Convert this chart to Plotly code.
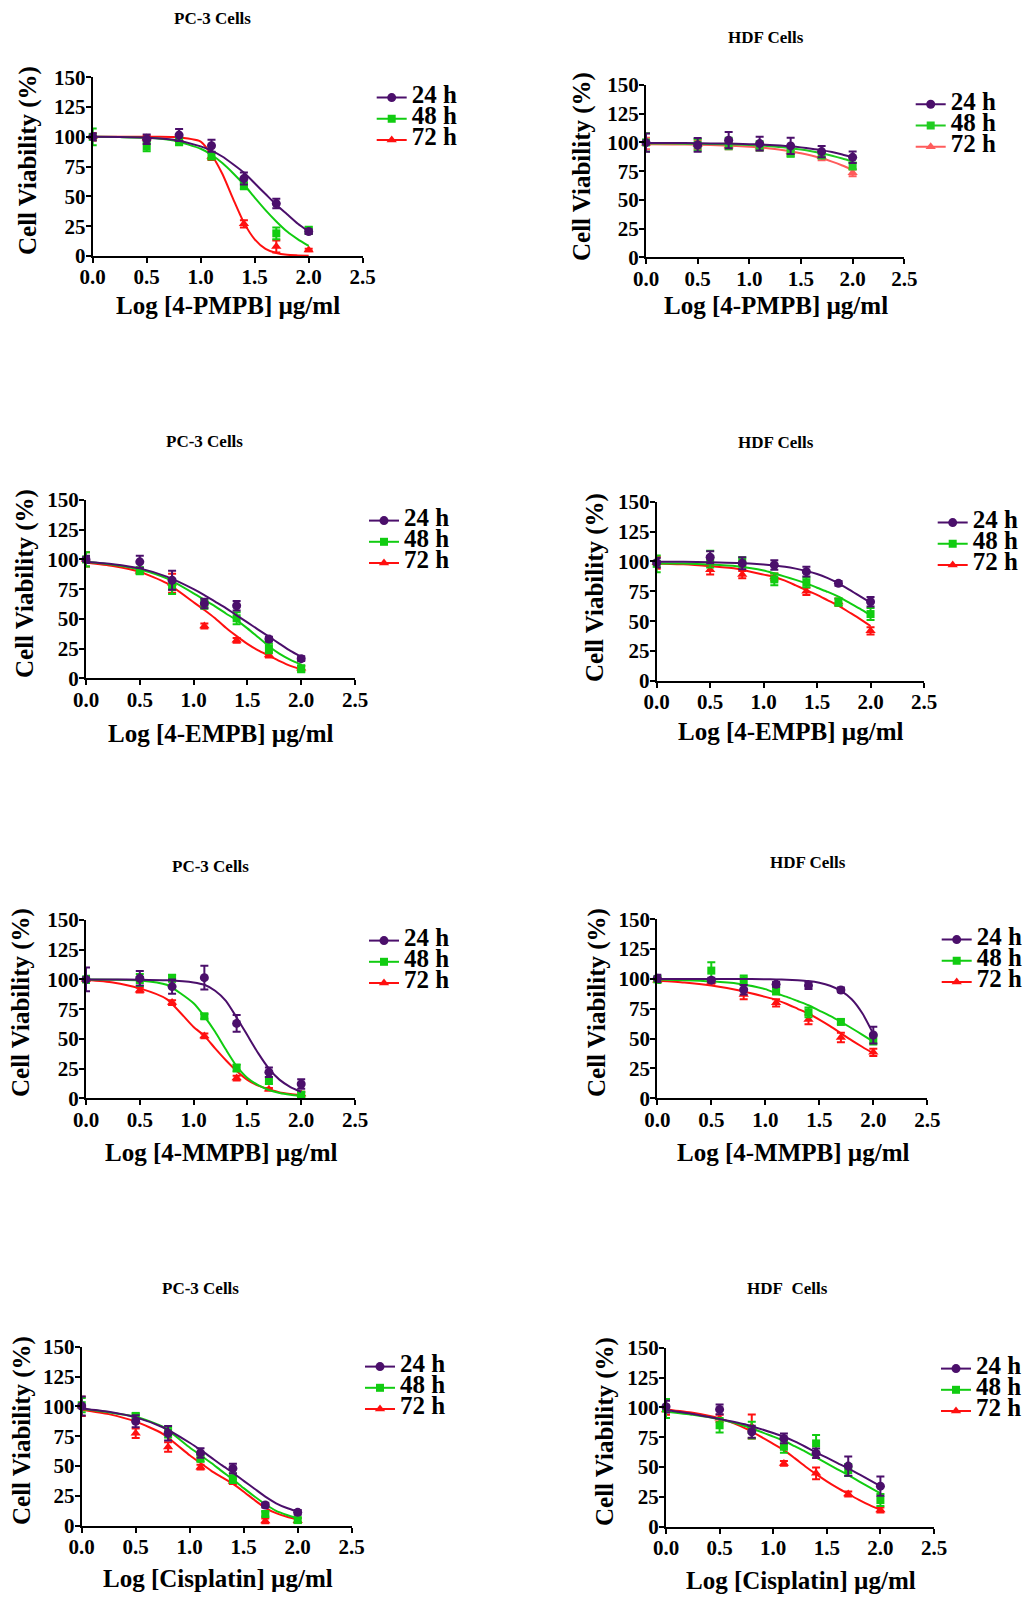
import plotly.graph_objects as go

# ---------------- data ----------------
DOSE_X = [0.0, 0.5, 0.8, 1.1, 1.4, 1.7, 2.0]
CURVE_X = [0.0, 0.25, 0.5, 0.75, 1.0, 1.1, 1.2, 1.3, 1.4, 1.5, 1.6, 1.7, 1.8, 1.9, 2.0]
TIME_LABELS = ["24 h", "48 h", "72 h"]
Y_TICKS = [0, 25, 50, 75, 100, 125, 150]
X_TICKS = [0.0, 0.5, 1.0, 1.5, 2.0, 2.5]

PANEL_TITLES = ["PC-3 Cells", "HDF Cells", "PC-3 Cells", "HDF Cells",
                "PC-3 Cells", "HDF Cells", "PC-3 Cells", "HDF\u00a0 Cells"]
X_TITLES = ["Log [4-PMPB] µg/ml", "Log [4-PMPB] µg/ml",
            "Log [4-EMPB] µg/ml", "Log [4-EMPB] µg/ml",
            "Log [4-MMPB] µg/ml", "Log [4-MMPB] µg/ml",
            "Log [Cisplatin] µg/ml", "Log [Cisplatin] µg/ml"]
Y_TITLE = "Cell Viability (%)"

# Panel 1: PC-3, 4-PMPB
P1_MEAN_24 = [100, 98, 101.5, 92.5, 65, 44, 20.5]
P1_ERR_24 = [3, 4, 5, 5, 5, 4, 2]
P1_MEAN_48 = [100, 92, 96, 84, 59, 19, 21.5]
P1_ERR_48 = [7, 4, 3, 3, 3, 5, 3]
P1_MEAN_72 = [100, 99, 98, 83.5, 27, 8, 5]
P1_ERR_72 = [3, 2, 2, 3, 3, 5, 1]
P1_FIT_24 = [100, 99.8, 99.3, 97.5, 92, 88.5, 83.5, 77, 70, 61, 52, 43, 35, 27, 20.5]
P1_FIT_48 = [100, 99.8, 99.3, 97, 90, 85, 78, 69.5, 60, 49, 38.5, 29, 20.5, 14, 8.5]
P1_FIT_72 = [100, 100, 100, 99.8, 96, 85, 69, 48, 28, 14, 6, 2.5, 1, 0.5, 0.2]

# Panel 2: HDF, 4-PMPB
P2_MEAN_24 = [99.8, 97.8, 102, 99, 97, 92, 87]
P2_ERR_24 = [8, 6, 7, 6, 7, 5, 5]
P2_MEAN_48 = [100, 98, 99, 97, 90.5, 89, 79.5]
P2_ERR_48 = [8, 5, 5, 4, 3, 3, 3]
P2_MEAN_72 = [99, 98, 97, 96, 92, 87.5, 73.5]
P2_ERR_72 = [5, 4, 3, 3, 3, 3, 3]
P2_FIT_24 = [99.5, 99.5, 99.3, 99, 98.5, 98.2, 97.8, 97.3, 96.6, 95.7, 94.6, 93.3, 91.6, 89.5, 87]
P2_FIT_48 = [99, 99, 98.8, 98.4, 97.8, 97.3, 96.7, 96, 95, 93.8, 92.3, 90.5, 88.4, 86, 83.3]
P2_FIT_72 = [98.5, 98.3, 98, 97.4, 96.3, 95.7, 94.8, 93.6, 92.2, 90.6, 88.6, 86.2, 83.3, 79.9, 76]

# Panel 3: PC-3, 4-EMPB
P3_MEAN_24 = [100, 98, 82.5, 63, 61, 33, 16.5]
P3_ERR_24 = [3, 5, 8, 4, 4, 2, 2]
P3_MEAN_48 = [100, 90.5, 77, 62.5, 50.5, 25, 8]
P3_ERR_48 = [6, 3, 6, 4, 5, 4, 3]
P3_MEAN_72 = [100, 90, 80, 44, 32, 19.6, 8.4]
P3_ERR_72 = [6, 2, 8, 2, 2, 2, 2]
P3_FIT_24 = [98, 96, 92.5, 85.5, 75, 70, 64.5, 59, 53, 47, 41, 35, 29, 23, 18]
P3_FIT_48 = [98, 95.5, 91.5, 84, 71.5, 66, 60.5, 54.5, 49, 42, 34.5, 27, 20.5, 15.5, 11.5]
P3_FIT_72 = [97.5, 94.5, 89.5, 80, 64, 57.5, 50.5, 42.5, 35.5, 29, 23.5, 19, 14.5, 10.5, 7.5]

# Panel 4: HDF, 4-EMPB
P4_MEAN_24 = [99, 103.5, 98.5, 97, 91.5, 81.7, 66.3]
P4_ERR_24 = [4, 5, 5, 4, 4, 2, 4]
P4_MEAN_48 = [98, 102, 99.5, 85, 82.5, 66, 56]
P4_ERR_48 = [7, 7, 4, 5, 4, 3, 5]
P4_MEAN_72 = [99, 93, 89, 87, 75, 66, 42]
P4_ERR_72 = [5, 4, 3, 3, 3, 3, 3]
P4_FIT_24 = [99.8, 99.7, 99.4, 98.8, 97.5, 96.7, 95.6, 94, 92, 89.5, 86, 81.7, 76.5, 71, 65.5]
P4_FIT_48 = [98.4, 98.2, 97.4, 96, 92.5, 90, 87.3, 84.6, 81.7, 78, 74.5, 70.5, 65.5, 60.5, 55]
P4_FIT_72 = [98.4, 97.6, 96, 94, 89, 87, 84, 80, 76, 72, 67.5, 63, 57.5, 52, 46]

# Panel 5: PC-3, 4-MMPB
P5_MEAN_24 = [100, 101, 94, 101.5, 63, 22, 12]
P5_ERR_24 = [10, 6, 6, 10, 7, 4, 4]
P5_MEAN_48 = [100, 99.5, 101, 69, 25.5, 15, 3]
P5_ERR_48 = [3, 5, 3, 2, 3, 3, 2]
P5_MEAN_72 = [100, 91, 80.5, 52.5, 17, 7.6, 3.6]
P5_ERR_72 = [2, 2, 2, 2, 2, 1, 2]
P5_FIT_24 = [100, 100, 99.8, 99.3, 97.5, 95.5, 90.5, 82, 68, 53, 38, 25, 15.5, 9.5, 5.5]
P5_FIT_48 = [100, 99.8, 99.2, 95.5, 80, 69, 56, 41, 27, 17, 11, 7, 4.5, 3, 2]
P5_FIT_72 = [99.5, 97.5, 92.5, 83.5, 60, 52.5, 42, 32, 23, 15.5, 10.6, 7.6, 5, 3.6, 2.5]

# Panel 6: HDF, 4-MMPB
P6_MEAN_24 = [100.5, 99, 91, 95.5, 94.5, 90.8, 53]
P6_ERR_24 = [3, 2, 4, 2, 3, 2, 7]
P6_MEAN_48 = [99.7, 107, 99, 90, 72, 64, 49]
P6_ERR_48 = [3, 7, 4, 3, 4, 2, 4]
P6_MEAN_72 = [99, 98, 87, 80, 66, 51, 38.5]
P6_ERR_72 = [2, 2, 4, 3, 4, 4, 3]
P6_FIT_24 = [100, 100, 100, 100, 99.8, 99.6, 99.3, 98.9, 98.2, 96.8, 94.3, 90, 83, 71, 54]
P6_FIT_48 = [99.5, 99, 98, 96, 91.5, 88, 85, 81.5, 78, 73.5, 69, 64, 58.7, 53.2, 47.5]
P6_FIT_72 = [98.5, 97, 94.5, 90.5, 85, 82.5, 79, 75, 71, 66, 60.5, 54.5, 48.5, 43, 37.7]

# Panel 7: PC-3, Cisplatin
P7_MEAN_24 = [100.3, 87.5, 77.5, 61, 48, 17.3, 11.2]
P7_ERR_24 = [8, 5, 6, 4, 4, 2, 2]
P7_MEAN_48 = [101, 92, 78, 56.5, 39.7, 9.8, 4.7]
P7_ERR_48 = [6, 2, 4, 3, 4, 2, 2]
P7_MEAN_72 = [100, 77.4, 66, 49, 37, 4, 4.2]
P7_ERR_72 = [8, 4, 4, 2, 2, 2, 2]
P7_FIT_24 = [98.3, 95.5, 90.8, 82.5, 69.5, 63.5, 57, 50.5, 44.4, 37.6, 31, 24.3, 18.8, 14.8, 11.7]
P7_FIT_48 = [97.7, 95, 91.3, 83, 65.5, 59, 52.5, 45.5, 38.8, 31.5, 24.5, 18, 12.5, 9, 6]
P7_FIT_72 = [97.2, 93.5, 87.2, 77, 59, 52.5, 46, 40.5, 35, 28.5, 21.5, 15, 10.5, 7.5, 5.3]

# Panel 8: HDF, Cisplatin
P8_MEAN_24 = [100.6, 98.3, 79.6, 74, 61.5, 50.8, 34]
P8_ERR_24 = [5, 4, 5, 4, 4, 8, 8]
P8_MEAN_48 = [99, 85, 81, 67, 69.8, 47.5, 22.3]
P8_ERR_48 = [8, 6, 7, 5, 7, 5, 5]
P8_MEAN_72 = [97.8, 90.8, 84, 53, 44.7, 27.4, 14]
P8_ERR_72 = [4, 3, 10, 2, 5, 2, 2]
P8_FIT_24 = [97.8, 94.5, 90.2, 85.5, 78.5, 75.4, 71.5, 67, 62.3, 57.8, 53.3, 48.9, 44, 39, 34]
P8_FIT_48 = [96.4, 93.8, 90, 84, 75.5, 72, 67.5, 63, 58, 53, 48, 43.3, 38, 33, 28]
P8_FIT_72 = [98.3, 95.5, 90.8, 82, 69.5, 64.2, 57.5, 50.5, 44, 38, 32.5, 27.4, 22.5, 18, 14]

MEANS = [
    [P1_MEAN_24, P1_MEAN_48, P1_MEAN_72], [P2_MEAN_24, P2_MEAN_48, P2_MEAN_72],
    [P3_MEAN_24, P3_MEAN_48, P3_MEAN_72], [P4_MEAN_24, P4_MEAN_48, P4_MEAN_72],
    [P5_MEAN_24, P5_MEAN_48, P5_MEAN_72], [P6_MEAN_24, P6_MEAN_48, P6_MEAN_72],
    [P7_MEAN_24, P7_MEAN_48, P7_MEAN_72], [P8_MEAN_24, P8_MEAN_48, P8_MEAN_72],
]
ERRS = [
    [P1_ERR_24, P1_ERR_48, P1_ERR_72], [P2_ERR_24, P2_ERR_48, P2_ERR_72],
    [P3_ERR_24, P3_ERR_48, P3_ERR_72], [P4_ERR_24, P4_ERR_48, P4_ERR_72],
    [P5_ERR_24, P5_ERR_48, P5_ERR_72], [P6_ERR_24, P6_ERR_48, P6_ERR_72],
    [P7_ERR_24, P7_ERR_48, P7_ERR_72], [P8_ERR_24, P8_ERR_48, P8_ERR_72],
]
FITS = [
    [P1_FIT_24, P1_FIT_48, P1_FIT_72], [P2_FIT_24, P2_FIT_48, P2_FIT_72],
    [P3_FIT_24, P3_FIT_48, P3_FIT_72], [P4_FIT_24, P4_FIT_48, P4_FIT_72],
    [P5_FIT_24, P5_FIT_48, P5_FIT_72], [P6_FIT_24, P6_FIT_48, P6_FIT_72],
    [P7_FIT_24, P7_FIT_48, P7_FIT_72], [P8_FIT_24, P8_FIT_48, P8_FIT_72],
]

# ---------------- style / layout ----------------
PAGE_W, PAGE_H = 1033, 1603
OFF = 8  # default body margin of the html page
W, H = PAGE_W - OFF, PAGE_H - OFF
FONT = "Liberation Serif"
COLORS = ["#4b0f6b", "#11cc11", "#ff1010"]
COLORS_P2 = ["#4b0f6b", "#22cc22", "#ff5c5c"]
SYMBOLS = ["circle", "square", "triangle-up"]
SIZES = [9, 8, 9]

# pixel boxes in page pixels: (x at 0, x at 2.5, y px at 0, y px at 150)
BOXES = [
    (92.7, 362.7, 256.0, 77.3), (646.0, 904.3, 257.3, 85.0),
    (86.0, 355.0, 678.3, 500.0), (656.7, 924.0, 681.0, 501.7),
    (86.0, 355.0, 1098.3, 920.0), (657.3, 927.3, 1098.3, 919.3),
    (81.7, 351.7, 1525.7, 1346.7), (666.0, 934.0, 1526.7, 1347.7),
]
TITLE_POS = [(212, 18), (766, 38), (204, 441), (776, 443),
             (210, 866), (808, 862), (200, 1288), (787, 1288)]
XTITLE_POS = [(228, 305), (776, 305), (221, 733), (791, 731),
              (221, 1152), (793, 1152), (218, 1578), (801, 1580)]
YTITLE_POS = [(28, 161), (582, 167), (25, 584), (595, 588),
              (21, 1003), (597, 1003), (22, 1431), (605, 1432)]
# (legend text left, first row centre)
LEGEND_POS = [(411.7, 95), (950.7, 101.7), (404, 518), (972.7, 520),
              (404, 938), (976.7, 937), (400, 1364), (976, 1366)]


def fx(px):
    return (px - OFF) / W


def fy(py):
    return 1 - (py - OFF) / H


fig = go.Figure()
annotations = []
layout_upd = {}

for i in range(8):
    n = i + 1
    sfx = "" if n == 1 else str(n)
    xa, ya = "x" + sfx, "y" + sfx
    leg = "legend" + sfx
    cols = COLORS_P2 if n == 2 else COLORS

    # draw 72h first so that 24h ends on top
    for k in [2, 1, 0]:
        fig.add_trace(go.Scatter(
            x=CURVE_X, y=FITS[i][k], mode="lines",
            line=dict(color=cols[k], width=2, shape="spline", smoothing=0.6),
            xaxis=xa, yaxis=ya, showlegend=False, hoverinfo="skip"))
        fig.add_trace(go.Scatter(
            x=DOSE_X, y=MEANS[i][k], mode="markers",
            marker=dict(symbol=SYMBOLS[k], size=SIZES[k], color=cols[k]),
            error_y=dict(type="data", array=ERRS[i][k], color=cols[k],
                         thickness=2, width=4),
            xaxis=xa, yaxis=ya, showlegend=False, cliponaxis=False,
            name=TIME_LABELS[k]))
    for k in range(3):
        fig.add_trace(go.Scatter(
            x=[None], y=[None], mode="lines+markers",
            name="<span style='font-size:25px'>" + TIME_LABELS[k] + "</span>",
            line=dict(color=cols[k], width=2),
            marker=dict(symbol=SYMBOLS[k], size=SIZES[k], color=cols[k]),
            xaxis=xa, yaxis=ya, legend=leg, showlegend=True))

    x0, x1, yb, yt = BOXES[i]
    axis_common = dict(showline=True, linecolor="black", linewidth=2,
                       ticks="outside", ticklen=5, tickwidth=2, tickcolor="black",
                       showgrid=False, zeroline=False, ticklabelstandoff=-4,
                       tickfont=dict(family=FONT, size=21, color="black", weight="bold"))
    layout_upd["xaxis" + sfx] = dict(
        domain=[fx(x0), fx(x1)], anchor=ya, range=[0, 2.5],
        tickvals=X_TICKS, tickformat=".1f", **axis_common)
    layout_upd["yaxis" + sfx] = dict(
        domain=[fy(yb), fy(yt)], anchor=xa, range=[0, 150],
        tickvals=Y_TICKS, **axis_common)
    lx, ly = LEGEND_POS[i]
    layout_upd[leg] = dict(
        x=fx(lx - 40), y=fy(ly - 13), xanchor="left", yanchor="top",
        bgcolor="rgba(0,0,0,0)", borderwidth=0, itemwidth=30,
        font=dict(family=FONT, size=14, color="black", weight="bold"))

    tx, ty = TITLE_POS[i]
    annotations.append(dict(text=PANEL_TITLES[i], x=fx(tx), y=fy(ty),
                            xref="paper", yref="paper", showarrow=False,
                            xanchor="center", yanchor="middle",
                            font=dict(family=FONT, size=17, color="black", weight="bold")))
    tx, ty = XTITLE_POS[i]
    annotations.append(dict(text=X_TITLES[i], x=fx(tx), y=fy(ty),
                            xref="paper", yref="paper", showarrow=False,
                            xanchor="center", yanchor="middle",
                            font=dict(family=FONT, size=25, color="black", weight="bold")))
    tx, ty = YTITLE_POS[i]
    annotations.append(dict(text=Y_TITLE, x=fx(tx), y=fy(ty), textangle=-90,
                            xref="paper", yref="paper", showarrow=False,
                            xanchor="center", yanchor="middle",
                            font=dict(family=FONT, size=25, color="black", weight="bold")))

fig.update_layout(
    width=W, height=H,
    margin=dict(l=0, r=0, t=0, b=0, autoexpand=False),
    paper_bgcolor="white", plot_bgcolor="white",
    annotations=annotations,
    **layout_upd,
)

fig.write_html("out.html")
